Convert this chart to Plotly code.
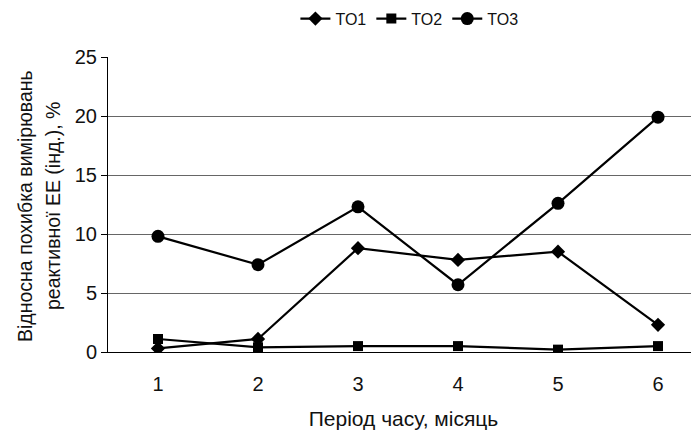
import plotly.graph_objects as go

months = [1, 2, 3, 4, 5, 6]
to1 = [0.3, 1.1, 8.8, 7.8, 8.5, 2.3]
to2 = [1.1, 0.4, 0.5, 0.5, 0.2, 0.5]
to3 = [9.8, 7.4, 12.3, 5.7, 12.6, 19.9]

FONT = "Liberation Sans, Arial, sans-serif"

fig = go.Figure()
for name, vals, sym, size in [("TO1", to1, "diamond", 11),
                              ("TO2", to2, "square", 10),
                              ("TO3", to3, "circle", 13)]:
    fig.add_trace(go.Scatter(x=months, y=vals, name=name, mode="lines+markers",
                             line=dict(color="black", width=2.2),
                             marker=dict(symbol=sym, size=size, color="black")))

fig.update_xaxes(range=[0.5, 6.41], tickvals=months, showgrid=False,
                 showline=True, linecolor="black", linewidth=1,
                 ticks="", ticklabelstandoff=14, tickfont=dict(size=20, color="#111"),
                 title=dict(text="Період часу, місяць", font=dict(size=21, color="#111"), standoff=17),
                 zeroline=False)
fig.update_yaxes(range=[0, 25], dtick=5, showgrid=True, gridcolor="#666", gridwidth=1,
                 showline=True, linecolor="black", linewidth=1,
                 ticks="outside", ticklen=6, tickcolor="black",
                 tickfont=dict(size=20, color="#111"), zeroline=False)

# two-line rotated y title (positions in page pixels)
for xpx, txt in [(25, "Відносна похибка вимірювань"), (53, "реактивної ЕЕ (інд.), %")]:
    fig.add_annotation(text=txt, textangle=-90, xref="paper", yref="paper",
                       x=(xpx - 108) / 591, y=0.495, xanchor="center", yanchor="middle",
                       showarrow=False, font=dict(size=19.5, color="#111", family=FONT))

# page body adds an 8px offset, so the figure is shrunk and shifted to match
fig.update_layout(
    width=691, height=424,
    margin=dict(l=100, r=0, t=49, b=80, autoexpand=False),
    paper_bgcolor="white", plot_bgcolor="white",
    font=dict(family=FONT, color="#111"),
    legend=dict(orientation="h", x=0.51, xanchor="center", y=1.13, yanchor="middle",
                font=dict(size=16), itemwidth=30, tracegroupgap=0),
    showlegend=True,
)

fig.write_html("out.html")
